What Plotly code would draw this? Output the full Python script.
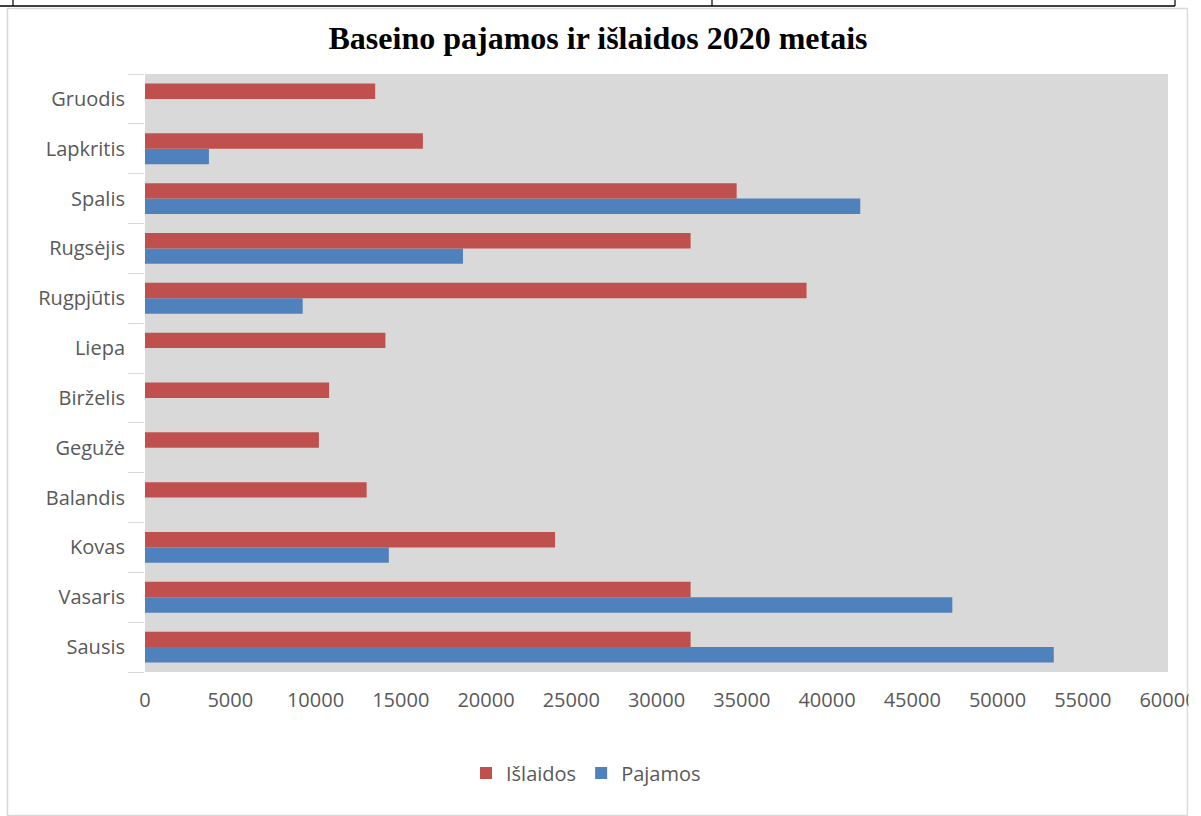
import plotly.graph_objects as go

months = ["Sausis", "Vasaris", "Kovas", "Balandis", "Gegužė", "Birželis",
          "Liepa", "Rugpjūtis", "Rugsėjis", "Spalis", "Lapkritis", "Gruodis"]
islaidos = [32000, 32000, 24050, 13000, 10200, 10800, 14100, 38800, 32000, 34700, 16300, 13500]
pajamos = [53300, 47350, 14300, 0, 0, 0, 0, 9250, 18650, 41950, 3750, 0]
x_ticks = [0, 5000, 10000, 15000, 20000, 25000, 30000, 35000, 40000, 45000, 50000, 55000, 60000]

W, H = 1201, 816
L, R, T, B = 145, 1168, 74, 672

def px(x):
    return (x - L) / (R - L)

def py(y):
    return (B - y) / (B - T)

fig = go.Figure()
fig.add_trace(go.Bar(y=months, x=pajamos, orientation="h", name="Pajamos",
                     marker=dict(color="#4F81BD", line=dict(width=0))))
fig.add_trace(go.Bar(y=months, x=islaidos, orientation="h", name="Išlaidos",
                     marker=dict(color="#C0504D", line=dict(width=0))))

label_font = dict(family="Open Sans, Noto Sans, sans-serif", size=20, color="#595959")

fig.update_layout(
    width=W, height=H,
    autosize=False,
    margin=dict(l=L, r=W - R, t=T, b=H - B, autoexpand=False),
    paper_bgcolor="white",
    plot_bgcolor="#D9D9D9",
    barmode="group",
    bargap=0.38,
    bargroupgap=0,
    title=dict(text="<b>Baseino pajamos ir išlaidos 2020 metais</b>",
               font=dict(family="Liberation Serif, Times New Roman, serif", size=32, color="black"),
               x=598 / W, xanchor="center", xref="container", y=1 - 38 / H, yanchor="middle", yref="container"),
    showlegend=True,
    legend=dict(orientation="h", traceorder="reversed", x=px(586), xanchor="center",
                y=py(773), yanchor="middle", font=label_font, bgcolor="rgba(0,0,0,0)",
                itemwidth=30, itemsizing="constant"),
    xaxis=dict(range=[0, 60000], tickvals=x_ticks, ticktext=[str(v) for v in x_ticks],
               showgrid=False, zeroline=False, showline=False, automargin=False,
               ticks="outside", ticklen=10, tickcolor="rgba(0,0,0,0)",
               tickfont=label_font, fixedrange=True),
    yaxis=dict(showgrid=False, zeroline=False, showline=False, automargin=False,
               ticks="outside", tickson="boundaries", ticklen=16, tickcolor="#D9D9D9",
               tickwidth=1, tickfont=label_font, fixedrange=True, ticklabelstandoff=19,
               categoryorder="array", categoryarray=months),
)

# chart area border
fig.add_shape(type="rect", xref="paper", yref="paper",
              x0=px(7.5), x1=px(1187.5), y0=py(815.5), y1=py(8.5),
              line=dict(color="#D9D9D9", width=1.5), fillcolor="rgba(0,0,0,0)", layer="below")
# clip beyond chart border on right
fig.add_shape(type="rect", xref="paper", yref="paper",
              x0=px(1188.5), x1=px(1201), y0=py(816), y1=py(7),
              line=dict(width=0), fillcolor="white", layer="above")
# table lines at top
fig.add_shape(type="line", xref="paper", yref="paper",
              x0=px(0), x1=px(1175), y0=py(6), y1=py(6),
              line=dict(color="black", width=1.5))
for xv in [13, 712, 1175]:
    fig.add_shape(type="line", xref="paper", yref="paper",
                  x0=px(xv), x1=px(xv), y0=py(0), y1=py(6),
                  line=dict(color="black", width=1.2))

fig.write_html(
    "out.html",
    config={"displayModeBar": False, "responsive": False},
    post_script=("document.body.style.margin='0px';"
                 "document.body.style.overflow='hidden';"
                 "document.documentElement.style.overflow='hidden';"),
)
